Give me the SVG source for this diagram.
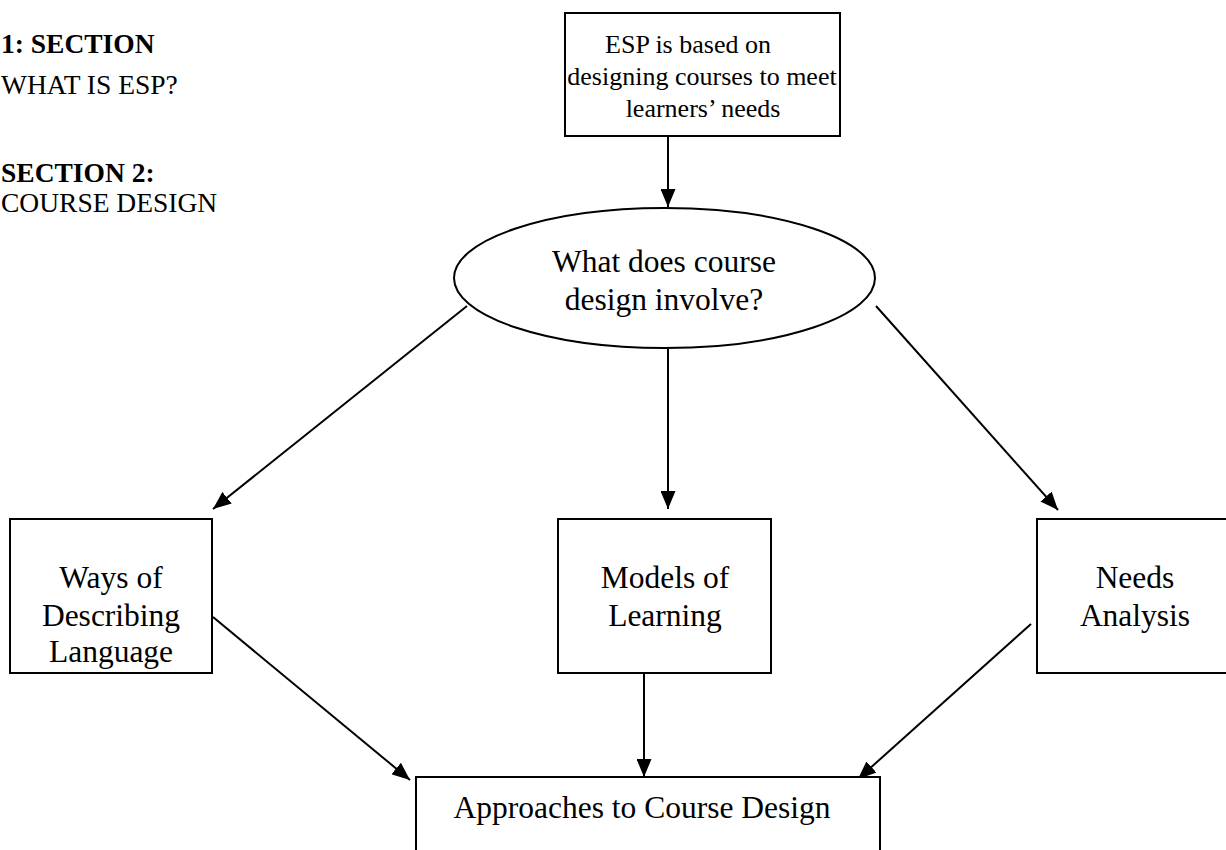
<svg xmlns="http://www.w3.org/2000/svg" width="1226" height="850" viewBox="0 0 1226 850">
<defs>
<marker id="ah" viewBox="0 0 18 15" refX="18" refY="7.5" markerWidth="18" markerHeight="15" markerUnits="userSpaceOnUse" orient="auto">
<path d="M0,0 L18,7.5 L0,15 Z" fill="#000"/>
</marker>
<style>
.box{fill:#fff;stroke:#000;stroke-width:2}
.t{font-family:"Liberation Serif","Times New Roman",serif;fill:#000;text-anchor:middle}
.s{font-size:26px}
.l{font-size:31.5px}
.h{font-family:"Liberation Serif","Times New Roman",serif;fill:#000;font-size:27.5px}
.c{stroke:#000;stroke-width:2;fill:none;marker-end:url(#ah)}
</style>
</defs>
<rect width="1226" height="850" fill="#fff"/>
<g id="sidebar">
<text class="h" x="1" y="53" font-weight="bold">1: SECTION</text>
<text class="h" x="1" y="94">WHAT IS ESP?</text>
<text class="h" x="1" y="182" font-weight="bold">SECTION 2:</text>
<text class="h" x="1" y="212">COURSE DESIGN</text>
</g>
<g id="connectors">
<line class="c" x1="668" y1="137" x2="668" y2="207"/>
<line class="c" x1="467" y1="306" x2="213" y2="509"/>
<line class="c" x1="668" y1="349" x2="668" y2="509"/>
<line class="c" x1="876" y1="306" x2="1058" y2="510"/>
<line class="c" x1="213" y1="617" x2="410" y2="780"/>
<line class="c" x1="644" y1="673" x2="644" y2="777"/>
<line class="c" x1="1031" y1="624" x2="858" y2="779"/>
</g>
<g id="n-esp">
<rect class="box" x="565" y="13" width="275" height="123"/>
<text class="t s" x="688" y="53">ESP is based on</text>
<text class="t s" x="702" y="85">designing courses to meet</text>
<text class="t s" x="703" y="117">learners’ needs</text>
</g>
<g id="n-question">
<ellipse class="box" cx="664.5" cy="278" rx="210.5" ry="70"/>
<text class="t l" x="664" y="272">What does course</text>
<text class="t l" x="664" y="310">design involve?</text>
</g>
<g id="n-ways">
<rect class="box" x="10" y="519" width="202" height="154"/>
<text class="t l" x="111" y="588">Ways of</text>
<text class="t l" x="111" y="626">Describing</text>
<text class="t l" x="111" y="662">Language</text>
</g>
<g id="n-models">
<rect class="box" x="558" y="519" width="213" height="154"/>
<text class="t l" x="665" y="588">Models of</text>
<text class="t l" x="665" y="626">Learning</text>
</g>
<g id="n-needs">
<rect class="box" x="1037" y="519" width="196" height="154"/>
<text class="t l" x="1135" y="588">Needs</text>
<text class="t l" x="1135" y="626">Analysis</text>
</g>
<g id="n-approaches">
<rect class="box" x="416" y="777" width="464" height="100"/>
<text class="t l" x="642" y="818">Approaches to Course Design</text>
</g>
</svg>
